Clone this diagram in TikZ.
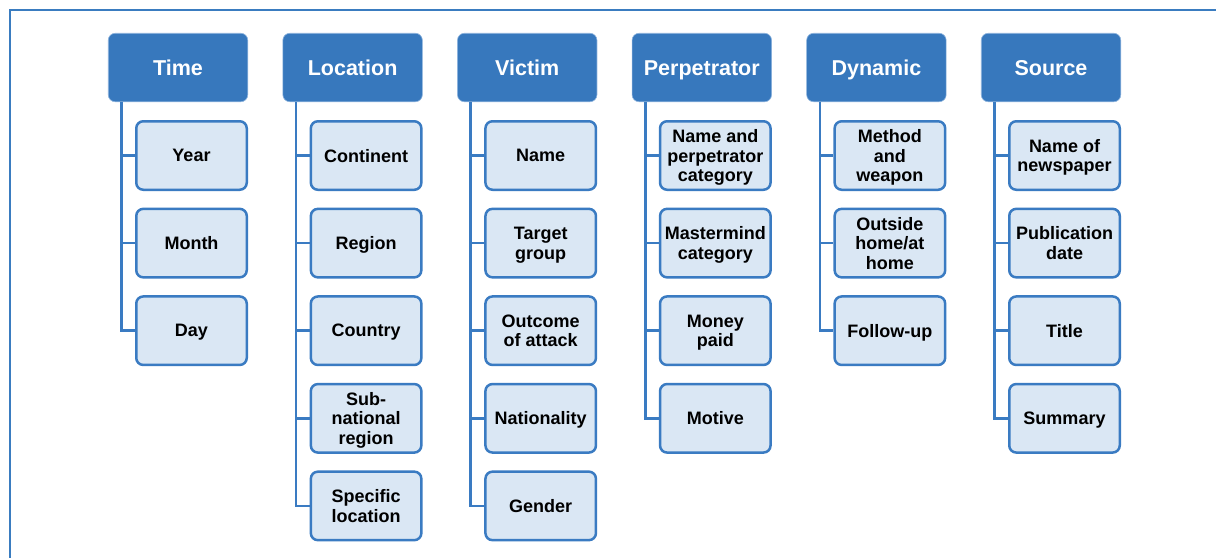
\documentclass[tikz,border=0pt]{standalone}
\usepackage{fontspec}
\setmainfont{Liberation Sans}
\definecolor{hdblue}{HTML}{3778BD}
\definecolor{hdedge}{HTML}{8DB3DD}
\definecolor{chfill}{HTML}{DAE7F4}
\definecolor{chline}{HTML}{3A7BC2}
\definecolor{frameblue}{HTML}{3A7CC0}
\tikzset{
  header/.style={rectangle, rounded corners=7pt, fill=hdblue, draw=hdedge, line width=0.6pt,
    minimum width=139.5pt, minimum height=68.5pt, text=white, inner sep=0pt,
    text height=15.4pt, text depth=0pt,
    font=\bfseries\fontsize{21.5}{24}\selectfont},
  child/.style={rectangle, rounded corners=7pt, fill=chfill, draw=chline, line width=2.5pt,
    minimum width=110.5pt, minimum height=68.5pt, align=center, inner sep=0pt, text depth=0pt,
    font=\bfseries\fontsize{18}{19.5}\selectfont},
  link/.style={draw=chline, line width=2.5pt},
  framestyle/.style={draw=frameblue, line width=2pt}
}
\begin{document}
\begin{tikzpicture}[x=1pt,y=-1pt]
\useasboundingbox (0,0) rectangle (1216,558);
\coordinate (fa) at (1216,10);
\coordinate (fb) at (10,10);
\coordinate (fc) at (10,558);
\draw[framestyle] (fa) -- (fb) -- (fc);

\foreach \i/\title/\kids in {
  0/Time/{Year,Month,Day},
  1/Location/{Continent,Region,Country,{Sub-\\national\\region},{Specific\\location}},
  2/Victim/{Name,{Target\\group},{Outcome\\of attack},Nationality,Gender},
  3/Perpetrator/{{Name and\\perpetrator\\category},{Mastermind\\category},{Money\\paid},Motive},
  4/Dynamic/{{Method\\and\\weapon},{Outside\\home/at\\home},Follow-up},
  5/Source/{{Name of\\newspaper},{Publication\\date},Title,Summary}}{
  \pgfmathsetmacro{\lx}{108+174.6*\i}
  \node[header] (h\i) at (\lx+70,67.5) {\title};
  \foreach \k [count=\j from 0] in \kids {
    \node[child] (c\i-\j) at (\lx+83.5,155.5+87.6*\j) {\k};
    \draw[link] ([xshift=-56.5pt]h\i.south) |- (c\i-\j.west);
  }
}
\end{tikzpicture}
\end{document}
